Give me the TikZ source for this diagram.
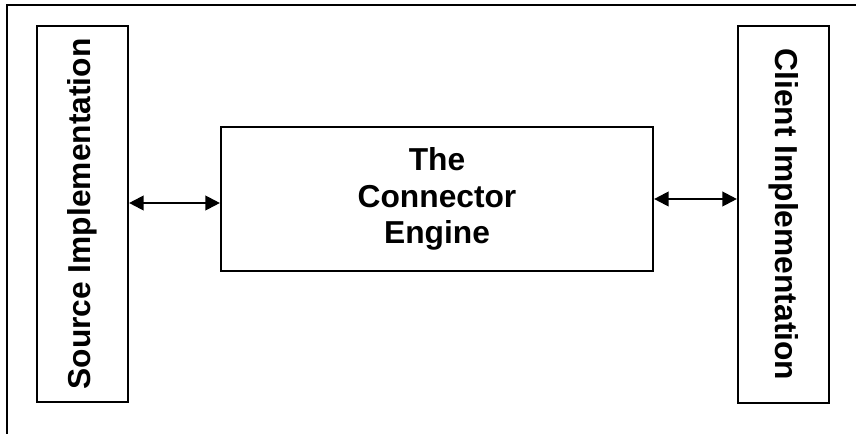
\documentclass[tikz,border=0pt]{standalone}
\usepackage{fontspec}
\setmainfont{Liberation Sans}
\usepackage{graphicx}
\usetikzlibrary{arrows.meta}
\begin{document}
\begin{tikzpicture}[x=0.75pt,y=-0.75pt,
  box/.style={draw,line width=1.6pt,inner sep=0pt,font=\fontsize{23.8}{27.5}\selectfont\bfseries,align=center},
  frameline/.style={line width=1.6pt},
  conn/.style={line width=1.6pt,{Triangle[length=11pt,width=11pt]}-{Triangle[length=11pt,width=11pt]}}]
\useasboundingbox (0,0) rectangle (856,434);
\draw[frameline] (7,434) -- (7,5) -- (856,5);
\node[box,minimum width=68.25pt,minimum height=282pt] (src) at (82.5,214) {\rotatebox{90}{Source Implementation}};
\node[box,minimum width=68.25pt,minimum height=282.75pt] (cli) at (783.5,214.5) {\rotatebox{-90}{Client Implementation}};
\node[box,minimum width=324pt,minimum height=108pt] (eng) at (437,199) {The\\Connector\\Engine};
\draw[conn] (src.east |- 0,203) -- (eng.west |- 0,203);
\draw[conn] (eng.east |- 0,199) -- (cli.west |- 0,199);
\end{tikzpicture}
\end{document}
